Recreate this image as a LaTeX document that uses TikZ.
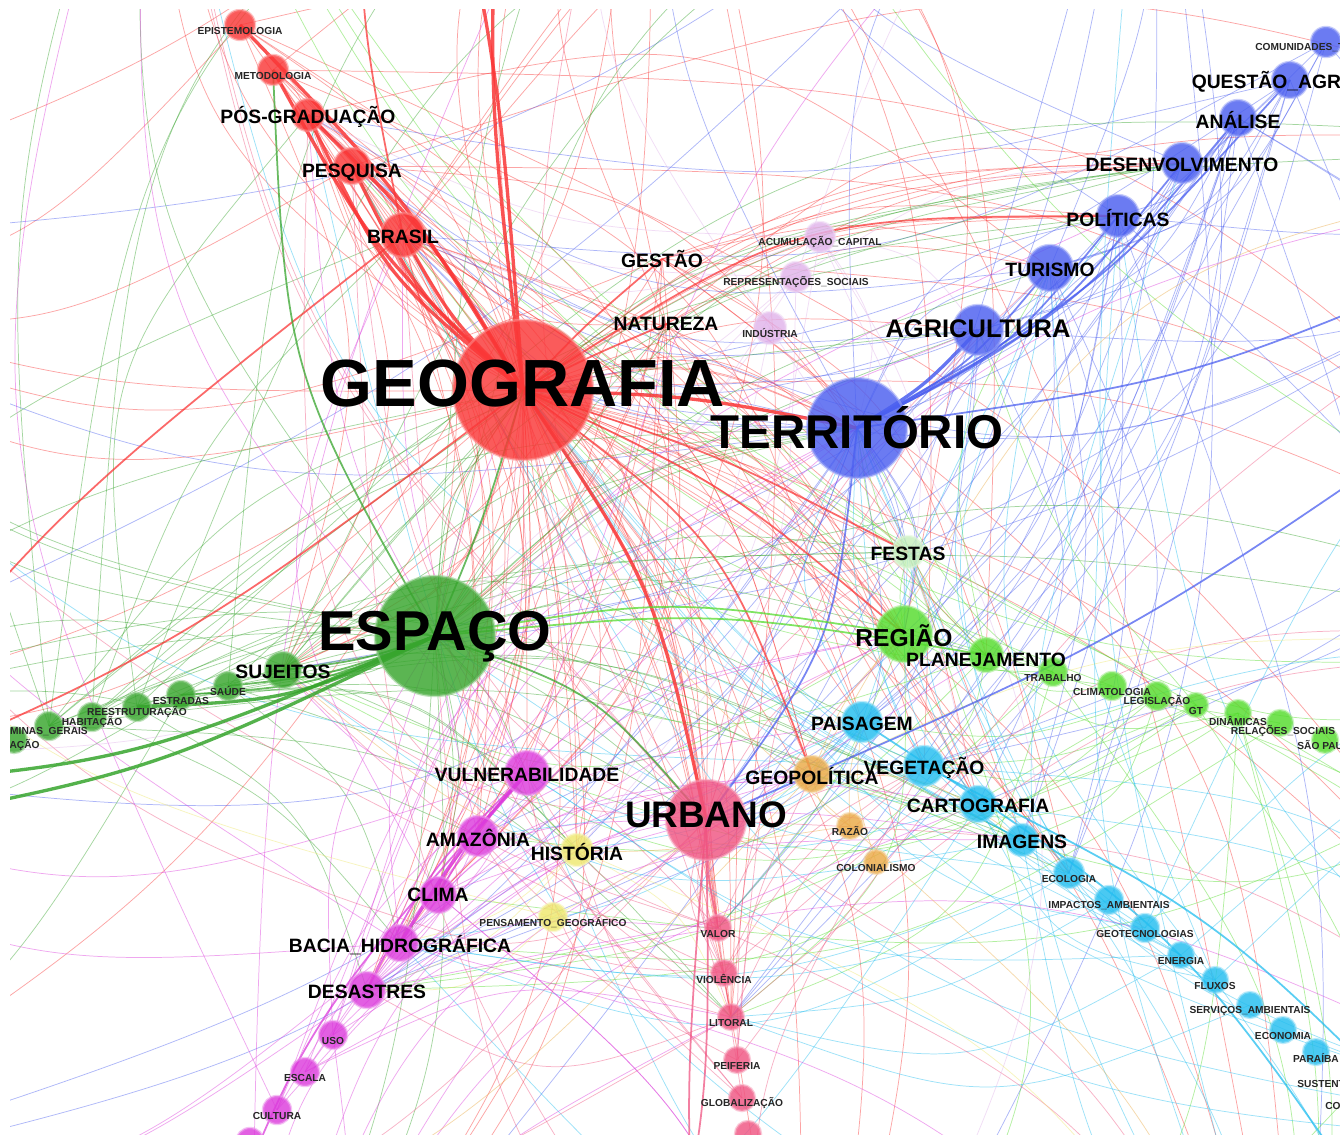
\documentclass[tikz,border=0pt]{standalone}
\usepackage{fontspec}
\setmainfont{Liberation Sans}
\usetikzlibrary{calc}
\pgfdeclarelayer{edges}
\pgfdeclarelayer{words}
\pgfsetlayers{edges,main,words}

\definecolor{geored}{RGB}{250,55,55}
\definecolor{terblue}{RGB}{75,95,240}
\definecolor{espgreen}{RGB}{55,165,45}
\definecolor{limeg}{RGB}{85,220,45}
\definecolor{paleg}{RGB}{200,240,190}
\definecolor{cyanb}{RGB}{35,190,240}
\definecolor{orangeg}{RGB}{235,170,70}
\definecolor{urbpink}{RGB}{240,85,130}
\definecolor{magent}{RGB}{220,60,220}
\definecolor{lilac}{RGB}{225,180,235}
\definecolor{yelg}{RGB}{238,232,110}

\tikzset{
  kwdot/.style={circle, inner sep=0pt, fill=#1, draw=#1!55!white, line width=1.4pt, fill opacity=.82, draw opacity=.55},
  kwlab/.style={font=\fontsize{11}{12}\selectfont\bfseries, inner sep=0pt, yshift=-0.04cm},
  kwtiny/.style={font=\fontsize{5.8}{6}\selectfont\bfseries, inner sep=0pt, yshift=-0.11cm, text=black!85},
  kwhuge/.style={font=\fontsize{#1}{#1}\selectfont\bfseries, inner sep=0pt},
  tiefaint/.style={draw=#1, line width=0.42pt, draw opacity=.45},
  tiemid/.style={draw=#1, line width=1pt, draw opacity=.75},
  tiestrong/.style={draw=#1, line width=1.9pt, draw opacity=.85},
}

% keyword: name, position, radius (px), colour, label style, text
\newcommand\kw[6]{%
  \node[kwdot=#4, minimum size=#3*0.04cm] (#1) at (#2) {};
  \begin{pgfonlayer}{words}\node[#5] (#1-lbl) at (#1) {#6};\end{pgfonlayer}}
% curved edge: style, from, to, bow (+ left, - right)
\newcommand\edgearc[4]{%
  \draw[#1] (#2) .. controls ($(#2)!.5!(#3)!#4!90:(#3)$) .. (#3);}

\begin{document}
\begin{tikzpicture}[x=0.02cm,y=-0.02cm,line cap=round]
\useasboundingbox (0,0) rectangle (1340,1135);

% geografia
\kw{geo}{523,390}{70}{geored}{kwhuge=38, yshift=0.12cm}{GEOGRAFIA}
\kw{epist}{240,25}{15}{geored}{kwtiny}{EPISTEMOLOGIA}
\kw{metod}{273,70}{15}{geored}{kwtiny}{METODOLOGIA}
\kw{posgrad}{308,115}{16}{geored}{kwlab}{PÓS-GRADUAÇÃO}
\kw{pesq}{352,166}{18}{geored}{kwlab, yshift=-0.1cm}{PESQUISA}
\kw{brasil}{403,235}{22}{geored}{kwlab}{BRASIL}
\begin{pgfonlayer}{words}
\node[kwlab] (gestao) at (662,257) {GESTÃO};
\node[kwlab] (natur) at (666,322) {NATUREZA};
\end{pgfonlayer}

% territorio
\kw{terr}{857,428}{50}{terblue}{kwhuge=27}{TERRITÓRIO}
\kw{agric}{978,330}{25}{terblue}{kwhuge=14.5, yshift=0.02cm}{AGRICULTURA}
\kw{turismo}{1050,268}{23}{terblue}{kwlab}{TURISMO}
\kw{polit}{1118,216}{21}{terblue}{kwlab}{POLÍTICAS}
\kw{desenv}{1182,163}{20}{terblue}{kwlab}{DESENVOLVIMENTO}
\kw{analise}{1238,118}{18}{terblue}{kwlab}{ANÁLISE}
\kw{questao}{1290,80}{18}{terblue}{kwlab}{QUESTÃO\_AGRÁRIA}
\kw{comun}{1326,42}{15}{terblue}{kwtiny, anchor=west, xshift=-1.42cm}{COMUNIDADES\_TRADICIONAIS}

\kw{acum}{820,237}{15}{lilac}{kwtiny}{ACUMULAÇÃO\_CAPITAL}
\kw{repres}{796,277}{15}{lilac}{kwtiny}{REPRESENTAÇÕES\_SOCIAIS}
\kw{indus}{770,328}{16}{lilac}{kwtiny}{INDÚSTRIA}

% espaco
\kw{esp}{435,636}{60}{espgreen}{kwhuge=32, yshift=-0.02cm}{ESPAÇO}
\kw{sujeitos}{283,670}{18}{espgreen}{kwlab}{SUJEITOS}
\kw{saude}{228,686}{14}{espgreen}{kwtiny}{SAÚDE}
\kw{estradas}{181,695}{14}{espgreen}{kwtiny}{ESTRADAS}
\kw{reestr}{137,707}{14}{espgreen}{kwtiny}{REESTRUTURAÇÃO}
\kw{habit}{92,717}{14}{espgreen}{kwtiny}{HABITAÇÃO}
\kw{minas}{49,726}{14}{espgreen}{kwtiny}{MINAS\_GERAIS}
\kw{acao}{14,740}{13}{espgreen}{kwtiny, anchor=east, xshift=0.52cm}{AÇÃO}

% regiao
\kw{regiao}{904,634}{28}{limeg}{kwhuge=14, yshift=-0.04cm}{REGIÃO}
\kw{planej}{986,655}{17}{limeg}{kwlab, yshift=-0.06cm}{PLANEJAMENTO}
\kw{festas}{908,552}{16}{paleg}{kwlab}{FESTAS}
\kw{trabalho}{1053,672}{14}{limeg}{kwtiny}{TRABALHO}
\kw{climat}{1112,686}{14}{limeg}{kwtiny}{CLIMATOLOGIA}
\kw{legisl}{1157,696}{14}{limeg}{kwtiny}{LEGISLAÇÃO}
\kw{gt}{1196,705}{12}{limeg}{kwtiny}{GT}
\kw{dinam}{1238,713}{13}{limeg}{kwtiny, yshift=-0.04cm}{DINÂMICAS}
\kw{relsoc}{1280,723}{13}{limeg}{kwtiny, xshift=0.06cm, yshift=-0.06cm}{RELAÇÕES\_SOCIAIS}
\kw{saopa}{1325,740}{13}{limeg}{kwtiny, anchor=west, xshift=-0.56cm}{SÃO PAULO}

% paisagem
\kw{paisag}{862,722}{20}{cyanb}{kwlab}{PAISAGEM}
\kw{veget}{924,766}{20}{cyanb}{kwlab}{VEGETAÇÃO}
\kw{cartog}{978,804}{18}{cyanb}{kwlab}{CARTOGRAFIA}
\kw{imagens}{1022,840}{16}{cyanb}{kwlab}{IMAGENS}
\kw{ecolog}{1069,873}{15}{cyanb}{kwtiny}{ECOLOGIA}
\kw{impact}{1109,900}{14}{cyanb}{kwtiny}{IMPACTOS\_AMBIENTAIS}
\kw{geotec}{1145,928}{14}{cyanb}{kwtiny}{GEOTECNOLOGIAS}
\kw{energia}{1181,955}{13}{cyanb}{kwtiny}{ENERGIA}
\kw{fluxos}{1215,980}{13}{cyanb}{kwtiny}{FLUXOS}
\kw{servic}{1250,1005}{13}{cyanb}{kwtiny}{SERVIÇOS\_AMBIENTAIS}
\kw{econom}{1283,1030}{13}{cyanb}{kwtiny}{ECONOMIA}
\kw{paraiba}{1316,1052}{13}{cyanb}{kwtiny}{PARAÍBA}
\kw{susten}{1355,1078}{13}{cyanb}{kwtiny, anchor=west, xshift=-1.16cm}{SUSTENTABILIDADE}
\kw{co}{1362,1100}{13}{cyanb}{kwtiny, anchor=west, xshift=-0.74cm}{CO}

\kw{geopol}{812,774}{18}{orangeg}{kwlab}{GEOPOLÍTICA}
\kw{razao}{850,826}{13}{orangeg}{kwtiny}{RAZÃO}
\kw{colon}{876,862}{12}{orangeg}{kwtiny}{COLONIALISMO}

% urbano
\kw{urbano}{706,820}{40}{urbpink}{kwhuge=21, yshift=0.1cm}{URBANO}
\kw{valor}{718,928}{13}{urbpink}{kwtiny}{VALOR}
\kw{violen}{724,973}{13}{urbpink}{kwtiny}{VIOLÊNCIA}
\kw{litoral}{731,1017}{13}{urbpink}{kwtiny}{LITORAL}
\kw{peif}{737,1060}{13}{urbpink}{kwtiny}{PEIFERIA}
\kw{global}{742,1098}{13}{urbpink}{kwtiny}{GLOBALIZAÇÃO}
\node[kwdot=urbpink, minimum size=13*0.04cm] (pk7) at (748,1134) {};

% vulnerabilidade
\kw{vuln}{527,773}{22}{magent}{kwlab}{VULNERABILIDADE}
\kw{amaz}{478,836}{20}{magent}{kwlab}{AMAZÔNIA}
\kw{clima}{438,895}{18}{magent}{kwlab, yshift=0.04cm}{CLIMA}
\kw{bacia}{400,943}{18}{magent}{kwlab}{BACIA\_HIDROGRÁFICA}
\kw{desast}{367,990}{18}{magent}{kwlab}{DESASTRES}
\kw{uso}{333,1035}{14}{magent}{kwtiny}{USO}
\kw{escala}{305,1072}{14}{magent}{kwtiny}{ESCALA}
\kw{cultura}{277,1110}{14}{magent}{kwtiny}{CULTURA}
\node[kwdot=magent, minimum size=14*0.04cm] (mg9) at (250,1142) {};

\kw{hist}{577,850}{16}{yelg}{kwlab}{HISTÓRIA}
\kw{pensam}{553,917}{14}{yelg}{kwtiny}{PENSAMENTO\_GEOGRÁFICO}

% ends beyond the frame
\coordinate (oN1) at (150,-300);
\coordinate (oN2) at (650,-350);
\coordinate (oN3) at (1150,-300);
\coordinate (oE1) at (1700,150);
\coordinate (oE2) at (1700,650);
\coordinate (oE3) at (1650,1150);
\coordinate (oS1) at (250,1450);
\coordinate (oS2) at (800,1500);
\coordinate (oS3) at (1300,1450);
\coordinate (oW1) at (-350,250);
\coordinate (oW2) at (-350,750);
\coordinate (oW3) at (-300,1200);
\coordinate (oRa) at (500,-200);
\coordinate (oRb) at (430,-250);
\coordinate (oRc) at (360,-200);
\coordinate (oRw) at (-250,900);
\coordinate (oRv) at (-220,820);
\coordinate (oBa) at (1500,250);
\coordinate (oBb) at (1500,380);
\coordinate (oGa) at (-200,790);
\coordinate (oGb) at (-150,830);
\coordinate (oMa) at (180,1350);
\coordinate (oPa) at (640,1400);
\coordinate (oPb) at (720,1450);
\coordinate (oCa) at (1400,1250);
\coordinate (oCb) at (1450,1150);

\pgfmathdeclarerandomlist{reds}{{geo}{geo}{geo}{geo}{geo}{brasil}{pesq}{posgrad}{metod}{epist}{gestao}{natur}{oN2}}
\pgfmathdeclarerandomlist{blues}{{terr}{terr}{terr}{agric}{turismo}{polit}{desenv}{analise}{questao}{comun}{oN3}{oE1}}
\pgfmathdeclarerandomlist{greens}{{esp}{esp}{esp}{sujeitos}{saude}{estradas}{reestr}{habit}{minas}{oW2}}
\pgfmathdeclarerandomlist{limes}{{regiao}{regiao}{planej}{festas}{trabalho}{climat}{legisl}{gt}{dinam}{relsoc}{oE2}}
\pgfmathdeclarerandomlist{cyans}{{paisag}{veget}{cartog}{imagens}{ecolog}{impact}{geotec}{energia}{fluxos}{servic}{oE3}{oS3}}
\pgfmathdeclarerandomlist{pinks}{{urbano}{urbano}{valor}{violen}{litoral}{peif}{global}{oS2}}
\pgfmathdeclarerandomlist{mags}{{vuln}{vuln}{amaz}{clima}{bacia}{desast}{uso}{escala}{cultura}{oS1}}
\pgfmathdeclarerandomlist{lilacs}{{acum}{repres}{indus}}
\pgfmathdeclarerandomlist{oranges}{{geopol}{razao}{colon}}
\pgfmathdeclarerandomlist{yels}{{hist}{pensam}}
\pgfmathdeclarerandomlist{ends}{{geo}{geo}{terr}{terr}{esp}{esp}{urbano}{regiao}{brasil}{pesq}{posgrad}{agric}{turismo}{polit}{desenv}{paisag}{veget}{cartog}{vuln}{amaz}{clima}{bacia}{geopol}{hist}{festas}{planej}{sujeitos}{imagens}{ecolog}{valor}{litoral}{desast}{oN1}{oN2}{oN3}{oE1}{oE2}{oE3}{oS1}{oS2}{oS3}{oW1}{oW2}{oW3}}

\begin{pgfonlayer}{edges}
\fill[white] (0,0) rectangle (1340,1135);
\pgfmathsetseed{2718}
\foreach \grp/\col/\num in {reds/geored/150, blues/terblue/90, greens/espgreen/75, limes/limeg/50, cyans/cyanb/65, pinks/urbpink/50, mags/magent/55, lilacs/lilac/18, oranges/orangeg/10, yels/yelg/8}{
  \foreach \k in {1,...,\num}{
    \pgfmathrandomitem{\src}{\grp}
    \pgfmathrandomitem{\tgt}{ends}
    \pgfmathrandominteger{\bnd}{15}{50}
    \ifx\src\tgt\else
      \edgearc{tiefaint=\col}{\src.center}{\tgt.center}{0.\bnd}
    \fi
  }
}

% red trunk
\edgearc{tiestrong=geored}{geo.center}{brasil.center}{.14}
\edgearc{tiestrong=geored}{geo.center}{pesq.center}{.19}
\edgearc{tiestrong=geored}{geo.center}{posgrad.center}{.22}
\edgearc{tiestrong=geored}{geo.center}{posgrad.center}{-.13}
\edgearc{tiestrong=geored}{geo.center}{metod.center}{.16}
\edgearc{tiestrong=geored}{geo.center}{epist.center}{-.11}
\edgearc{tiestrong=geored}{geo.center}{oRa}{.08}
\edgearc{tiestrong=geored}{geo.center}{oRb}{-.07}
\edgearc{tiemid=geored}{brasil.center}{oRc}{.1}
\edgearc{tiestrong=geored}{geo.center}{terr.center}{.08}
\edgearc{tiestrong=geored}{geo.center}{urbano.center}{.19}
\edgearc{tiemid=geored}{geo.center}{geopol.center}{.29}
\edgearc{tiemid=geored}{geo.center}{regiao.center}{.13}
\edgearc{tiemid=geored}{geo.center}{festas.center}{.08}
\edgearc{tiemid=geored}{geo.center}{gestao.center}{.05}
\edgearc{tiemid=geored}{geo.center}{natur.center}{.03}
\edgearc{tiemid=geored}{geo.center}{polit.center}{.29}
\edgearc{tiemid=geored}{brasil.center}{oRw}{-.13}
\edgearc{tiemid=geored}{geo.center}{oRv}{.12}

% blue
\edgearc{tiestrong=terblue}{terr.center}{agric.center}{-.13}
\edgearc{tiemid=terblue}{terr.center}{turismo.center}{-.19}
\edgearc{tiemid=terblue}{terr.center}{polit.center}{-.21}
\edgearc{tiemid=terblue}{terr.center}{desenv.center}{-.21}
\edgearc{tiemid=terblue}{terr.center}{analise.center}{-.19}
\edgearc{tiemid=terblue}{terr.center}{questao.center}{-.16}
\edgearc{tiemid=terblue}{terr.center}{oBa}{-.13}
\edgearc{tiemid=terblue}{terr.center}{urbano.center}{.27}
\edgearc{tiemid=terblue}{urbano.center}{oBb}{-.1}

% green
\edgearc{tiestrong=espgreen}{esp.center}{oGa}{.16}
\edgearc{tiestrong=espgreen}{esp.center}{oGb}{.13}
\edgearc{tiemid=espgreen}{esp.center}{sujeitos.center}{.1}
\edgearc{tiemid=espgreen}{esp.center}{saude.center}{.13}
\edgearc{tiemid=espgreen}{esp.center}{estradas.center}{.16}
\edgearc{tiestrong=espgreen}{esp.center}{reestr.center}{.19}
\edgearc{tiemid=espgreen}{esp.center}{geo.center}{-.05}
\edgearc{tiemid=espgreen}{esp.center}{urbano.center}{.27}
\edgearc{tiemid=espgreen}{metod.center}{esp.center}{-.24}
\edgearc{tiemid=limeg}{esp.center}{regiao.center}{.16}
\edgearc{tiemid=limeg}{esp.center}{planej.center}{.13}

% magenta, pink, cyan
\edgearc{tiestrong=magent}{vuln.center}{bacia.center}{-.08}
\edgearc{tiemid=magent}{vuln.center}{clima.center}{-.1}
\edgearc{tiemid=magent}{vuln.center}{desast.center}{-.16}
\edgearc{tiemid=magent}{vuln.center}{oMa}{-.19}
\edgearc{tiemid=urbpink}{urbano.center}{valor.center}{-.08}
\edgearc{tiemid=urbpink}{urbano.center}{oPa}{.13}
\edgearc{tiemid=urbpink}{urbano.center}{oPb}{-.1}
\edgearc{tiemid=cyanb}{paisag.center}{oCa}{.2}
\edgearc{tiemid=cyanb}{veget.center}{oCb}{.16}
\end{pgfonlayer}

\begin{pgfonlayer}{words}
\fill[white] (0,0) rectangle (10,1135);
\fill[white] (0,0) rectangle (1340,9);
\end{pgfonlayer}
\end{tikzpicture}
\end{document}
